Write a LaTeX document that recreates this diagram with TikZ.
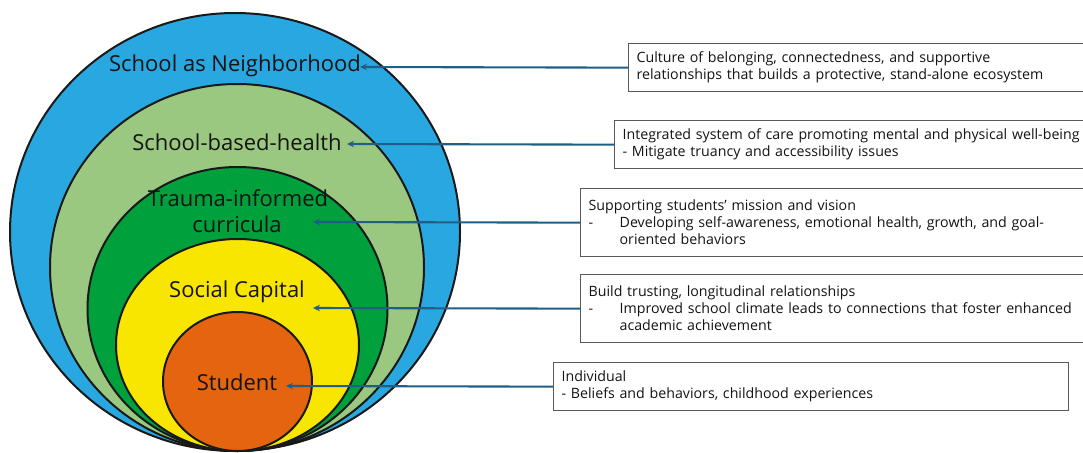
\documentclass[tikz,border=0pt]{standalone}
\usepackage{fontspec}
\setmainfont{Open Sans}
\usetikzlibrary{shapes.geometric,arrows.meta}
\definecolor{ringblue}{RGB}{41,167,224}
\definecolor{ringlight}{RGB}{155,200,128}
\definecolor{ringdark}{RGB}{0,160,60}
\definecolor{ringyellow}{RGB}{248,230,0}
\definecolor{ringorange}{RGB}{228,100,16}
\definecolor{arrowblue}{RGB}{31,94,135}
\definecolor{inktext}{RGB}{20,20,20}
\tikzset{
  ring/.style={ellipse, draw=black!90, line width=2pt, inner sep=0pt, outer sep=0pt},
  ringlabel/.style={font=\fontsize{22}{26}\selectfont, text=inktext, inner sep=0pt, align=center},
  infobox/.style={draw=black!65, line width=1.3pt, fill=white, anchor=north west,
    inner xsep=8pt, inner ysep=0pt, align=left, text=inktext,
    font=\fontsize{14.2}{17}\selectfont},
  pointer/.style={draw=arrowblue, line width=2.1pt, -{Stealth[length=7pt,width=6.5pt]}}
}
\begin{document}
\begin{tikzpicture}[x=1pt,y=-1pt]
  \useasboundingbox (0,0) rectangle (1083,452);
  \clip (0,0) rectangle (1083,452);

  % nested rings, all touching at the bottom
  \node[ring, fill=ringblue,   minimum width=450pt, minimum height=438pt] (r1) at (235,232) {};
  \node[ring, fill=ringlight,  minimum width=374pt, minimum height=367pt] (r2) at (237,267.5) {};
  \node[ring, fill=ringdark,   minimum width=300pt, minimum height=284pt] (r3) at (237.5,309) {};
  \node[ring, fill=ringyellow, minimum width=243pt, minimum height=212pt] (r4) at (237.5,345) {};
  \node[ring, fill=ringorange, minimum width=149pt, minimum height=139pt] (r5) at (237.5,381.5) {};

  % ring labels
  \node[ringlabel, anchor=base] (l1) at (235,71) {School as Neighborhood};
  \node[ringlabel, anchor=base] (l2) at (237,150) {School-based-health};
  \node[ringlabel, anchor=base] (l3a) at (238,206) {Trauma-informed};
  \node[ringlabel, anchor=base] (l3b) at (237,232) {curricula};
  \node[ringlabel, anchor=base] (l4) at (237,297) {Social Capital};
  \node[ringlabel, anchor=base] (l5) at (237,390) {Student};

  % description boxes
  \node[infobox, minimum width=470pt, minimum height=48pt, text width=454pt] (b1) at (628,43)
    {Culture of belonging, connectedness, and supportive\\
     relationships that builds a protective, stand-alone ecosystem};
  \node[infobox, minimum width=480pt, minimum height=48pt, text width=464pt] (b2) at (614,120)
    {Integrated system of care promoting mental and physical well-being\\
     - Mitigate truancy and accessibility issues};
  \node[infobox, minimum width=515pt, minimum height=68pt, text width=499pt] (b3) at (580,188)
    {Supporting students’ mission and vision\\
     \makebox[31pt][l]{-}Developing self-awareness, emotional health, growth, and goal-\\
     \hspace*{31pt}oriented behaviors};
  \node[infobox, minimum width=515pt, minimum height=68pt, text width=499pt] (b4) at (580,274)
    {Build trusting, longitudinal relationships\\
     \makebox[31pt][l]{-}Improved school climate leads to connections that foster enhanced\\
     \hspace*{31pt}academic achievement};
  \node[infobox, minimum width=515pt, minimum height=48pt, text width=499pt] (b5) at (553,362)
    {Individual\\
     - Beliefs and behaviors, childhood experiences};

  % arrow end points beside the ring labels
  \coordinate (t1) at (360,67);
  \coordinate (t2) at (347,144);
  \coordinate (t3) at (313,222);
  \coordinate (t4) at (313,308);
  \coordinate (t5) at (286,386);

  % connectors
  \draw[pointer] (b1.west) -- (t1);
  \draw[pointer] (b2.west) -- (t2);
  \draw[pointer] (b3.west) -- (t3);
  \draw[pointer] (b4.west) -- (t4);
  \draw[pointer] (b5.west) -- (t5);
\end{tikzpicture}
\end{document}
